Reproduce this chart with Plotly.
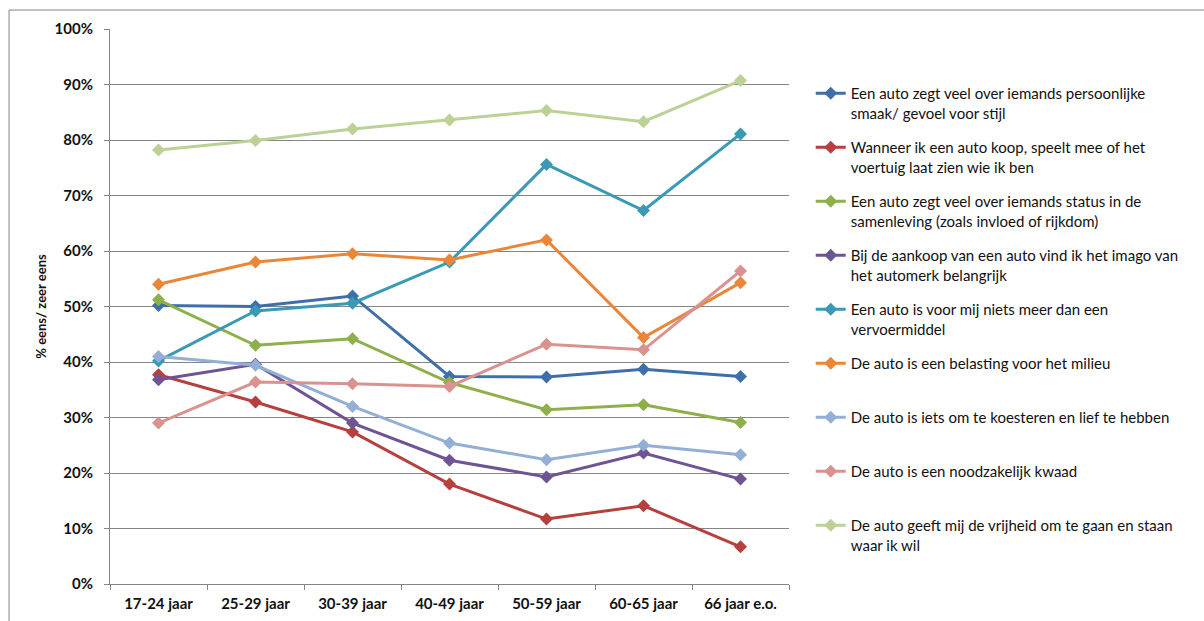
import plotly.graph_objects as go

# Age groups (x-axis categories)
categories = ["17-24 jaar", "25-29 jaar", "30-39 jaar", "40-49 jaar",
              "50-59 jaar", "60-65 jaar", "66 jaar e.o."]

# Share of respondents who (strongly) agree, per statement, in %
stijl = [50.2, 50.0, 51.9, 37.4, 37.3, 38.7, 37.4]
wie_ik_ben = [37.7, 32.8, 27.4, 18.0, 11.7, 14.1, 6.7]
status = [51.2, 43.0, 44.2, 36.3, 31.4, 32.3, 29.1]
imago = [36.8, 39.6, 29.0, 22.3, 19.3, 23.6, 18.9]
vervoermiddel = [40.2, 49.2, 50.6, 58.0, 75.6, 67.3, 81.1]
milieu = [54.0, 58.0, 59.5, 58.4, 62.0, 44.4, 54.3]
koesteren = [41.0, 39.4, 32.0, 25.4, 22.4, 25.0, 23.3]
noodzakelijk = [29.0, 36.4, 36.1, 35.6, 43.2, 42.2, 56.4]
vrijheid = [78.2, 79.9, 82.0, 83.6, 85.3, 83.3, 90.7]

series_names = [
    "Een auto zegt veel over iemands persoonlijke<br>smaak/ gevoel voor stijl",
    "Wanneer ik een auto koop, speelt mee of het<br>voertuig laat zien wie ik ben",
    "Een auto zegt veel over iemands status in de<br>samenleving (zoals invloed of rijkdom)",
    "Bij de aankoop van een auto vind ik het imago van<br>het automerk belangrijk",
    "Een auto is voor mij niets meer dan een<br>vervoermiddel",
    "De auto is een belasting voor het milieu<br> ",
    "De auto is iets om te koesteren en lief te hebben<br> ",
    "De auto is een noodzakelijk kwaad<br> ",
    "De auto geeft mij de vrijheid om te gaan en staan<br>waar ik wil",
]
series_values = [stijl, wie_ik_ben, status, imago, vervoermiddel,
                 milieu, koesteren, noodzakelijk, vrijheid]
series_colors = ["#3F6FAA", "#B5403D", "#8DB04A", "#6F5494", "#3A9AB5",
                 "#E8873A", "#93AFD6", "#D9928F", "#BCD196"]

FONT = "Lato"
AXIS_GREY = "#858585"

fig = go.Figure()
for i, (name, vals, col) in enumerate(zip(series_names, series_values, series_colors)):
    fig.add_trace(go.Scatter(
        x=categories, y=[v / 100 for v in vals], name=name,
        mode="lines+markers", legendgroup=f"g{i}",
        line=dict(color=col, width=3),
        marker=dict(symbol="diamond", size=10, color=col),
    ))

fig.update_layout(
    width=1204, height=621,
    margin=dict(l=110, r=415, t=29, b=37),
    paper_bgcolor="white", plot_bgcolor="white",
    font=dict(family=FONT, color="#000000"),
    showlegend=True,
    legend=dict(
        x=1.032, y=0.9135, xanchor="left", yanchor="top",
        font=dict(family=FONT, size=15, color="#111"),
        valign="top", tracegroupgap=12, itemwidth=30,
        bgcolor="rgba(0,0,0,0)",
    ),
    xaxis=dict(
        type="category", showgrid=False, automargin=False,
        showline=True, linecolor=AXIS_GREY, linewidth=1,
        ticks="outside", tickson="boundaries", ticklen=5, tickcolor=AXIS_GREY,
        tickfont=dict(family=FONT, size=15, color="#111"),
        ticklabelstandoff=6,
        range=[-0.5, 6.5],
    ),
    yaxis=dict(
        range=[0, 1], dtick=0.1, tickformat=".0%", automargin=False,
        showgrid=True, gridcolor=AXIS_GREY, gridwidth=1,
        showline=True, linecolor=AXIS_GREY, linewidth=1,
        ticks="outside", ticklen=5, tickcolor=AXIS_GREY,
        tickfont=dict(family=FONT, size=15, color="#111"),
        ticklabelstandoff=8,
        zeroline=False,
        title=dict(text="<b>% eens/ zeer eens</b>",
                   font=dict(family=FONT, size=13, color="#111"), standoff=5),
    ),
)
fig.update_xaxes(tickprefix="<b>", ticksuffix="</b>")
fig.update_yaxes(tickprefix="<b>", ticksuffix="</b>")

# Outer chart frame (top and left edges)
fig.add_shape(type="line", xref="paper", yref="paper",
              x0=-0.1487, x1=1.62, y0=1.0342, y1=1.0342,
              line=dict(color=AXIS_GREY, width=1))
fig.add_shape(type="line", xref="paper", yref="paper",
              x0=-0.1487, x1=-0.1487, y0=1.0342, y1=-0.07,
              line=dict(color=AXIS_GREY, width=1))

fig.write_html("out.html")
